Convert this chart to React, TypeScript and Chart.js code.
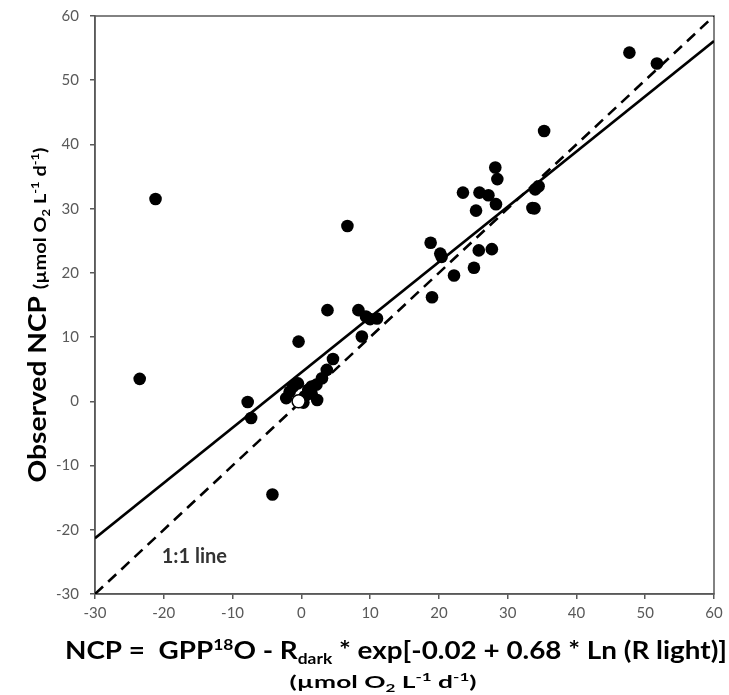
import React, { useEffect, useRef } from "react";
import { Chart, registerables } from "chart.js";

Chart.register(...registerables);

// Observed data (x = modelled NCP, y = observed NCP)
const xObs = [
  -21.2, -23.5, 6.7, 3.8, 8.3, 9.4, 10.0, 11.0, 8.8, -0.4,
  -7.8, -7.3, -4.2, 4.6, 3.7, 3.0, 2.2, 1.5, 1.0, -0.5,
  -1.2, -1.7, -2.2, 0.5, 2.3, 1.5, 0.3, 18.8, 20.2, 20.4,
  22.2, 25.1, 25.8, 27.7, 19.0, 23.5, 25.9, 27.2, 28.3, 25.4,
  28.2, 28.5, 35.3, 34.0, 34.5, 33.9, 33.6, 47.7, 51.7,
];
const yObs = [
  31.5, 3.5, 27.3, 14.2, 14.2, 13.2, 12.8, 12.9, 10.1, 9.3,
  -0.1, -2.6, -14.5, 6.6, 4.9, 3.6, 2.6, 2.3, 1.8, 2.8,
  2.3, 1.5, 0.5, 0.8, 0.2, 1.2, -0.2, 24.7, 23.0, 22.5,
  19.6, 20.8, 23.5, 23.7, 16.2, 32.5, 32.5, 32.1, 30.7, 29.7,
  36.4, 34.6, 42.1, 33.0, 33.5, 30.05, 30.1, 54.3, 52.6,
];
const openX = [-0.4];
const openY = [0.0];

const fitSlope = 0.86;
const fitIntercept = 4.5;
const lineX = [-30, 60];

const axisMin = -30;
const axisMax = 60;
const tickStep = 10;

const oneToOneLabel = "1:1 line";
const oneToOneLabelPos = [-20.3, -24.2];

type Seg = { t: string; s: number; dy: number };

const xTitle1: Seg[] = [
  { t: "NCP =  GPP", s: 24, dy: 0 },
  { t: "18", s: 15, dy: -9 },
  { t: "O - R", s: 24, dy: 0 },
  { t: "dark", s: 15, dy: 5 },
  { t: " * exp[-0.02 + 0.68 * Ln (R light)]", s: 24, dy: 0 },
];
const unitSegs: Seg[] = [
  { t: "(\u00b5mol O", s: 17, dy: 0 },
  { t: "2", s: 11, dy: 4 },
  { t: " L", s: 17, dy: 0 },
  { t: "-1", s: 11, dy: -7 },
  { t: " d", s: 17, dy: 0 },
  { t: "-1", s: 11, dy: -7 },
  { t: ")", s: 17, dy: 0 },
];
const yTitle: Seg[] = [{ t: "Observed NCP ", s: 24, dy: 0 }, ...unitSegs];

const FONT = "Lato, 'Open Sans', sans-serif";

function drawRich(
  ctx: CanvasRenderingContext2D,
  segs: Seg[],
  cx: number,
  cy: number,
  width: number,
  rot: number,
  color: string
) {
  ctx.save();
  ctx.translate(cx, cy);
  ctx.rotate(rot);
  let total = 0;
  const ws = segs.map((sg) => {
    ctx.font = `bold ${sg.s}px ${FONT}`;
    const w = ctx.measureText(sg.t).width;
    total += w;
    return w;
  });
  ctx.scale(width / total, 1);
  let x = -total / 2;
  ctx.fillStyle = color;
  ctx.textBaseline = "alphabetic";
  ctx.textAlign = "left";
  segs.forEach((sg, i) => {
    ctx.font = `bold ${sg.s}px ${FONT}`;
    ctx.fillText(sg.t, x, sg.dy);
    x += ws[i];
  });
  ctx.restore();
}

const decorPlugin = {
  id: "decor",
  beforeDatasetsDraw(chart: any) {
    const { ctx, chartArea } = chart;
    ctx.save();
    ctx.strokeStyle = "#595959";
    ctx.lineWidth = 1.5;
    ctx.strokeRect(chartArea.left, chartArea.top, chartArea.right - chartArea.left, chartArea.bottom - chartArea.top);
    ctx.restore();
  },
  afterDraw(chart: any) {
    const { ctx } = chart;
    const xs = chart.scales.x;
    const ys = chart.scales.y;
    ctx.save();
    ctx.font = `bold 20px ${FONT}`;
    ctx.fillStyle = "#333333";
    ctx.textAlign = "left";
    ctx.textBaseline = "middle";
    ctx.fillText(
      oneToOneLabel,
      xs.getPixelForValue(oneToOneLabelPos[0]),
      ys.getPixelForValue(oneToOneLabelPos[1])
    );
    ctx.restore();
    drawRich(ctx, xTitle1, 396, 659, 662, 0, "#000");
    drawRich(ctx, unitSegs, 383, 688, 187, 0, "#000");
    drawRich(ctx, yTitle, 46, 315, 335, -Math.PI / 2, "#000");
  },
};

export default function App() {
  const ref = useRef<HTMLCanvasElement | null>(null);
  useEffect(() => {
    if (!ref.current) return;
    const pts = xObs.map((x, i) => ({ x, y: yObs[i] }));
    const open = openX.map((x, i) => ({ x, y: openY[i] }));
    const fit = lineX.map((x) => ({ x, y: fitSlope * x + fitIntercept }));
    const one = lineX.map((x) => ({ x, y: x }));
    const tickFont = { family: FONT, size: 15 };
    const chart = new Chart(ref.current, {
      type: "scatter",
      data: {
        datasets: [
          {
            type: "scatter",
            data: open,
            pointRadius: 6.5,
            pointBackgroundColor: "#fff",
            pointBorderColor: "#000",
            pointBorderWidth: 1.5,
          },
          {
            type: "scatter",
            data: pts,
            pointRadius: 6.3,
            pointBackgroundColor: "#000",
            pointBorderColor: "#000",
            pointBorderWidth: 0,
          },
          {
            type: "line",
            data: fit,
            borderColor: "#000",
            borderWidth: 2.6,
            pointRadius: 0,
            fill: false,
          },
          {
            type: "line",
            data: one,
            borderColor: "#000",
            borderWidth: 2.6,
            borderDash: [11, 7],
            pointRadius: 0,
            fill: false,
          },
        ],
      } as any,
      options: {
        animation: false,
        responsive: false,
        maintainAspectRatio: false,
        layout: { padding: { top: 16, right: 15, left: 0, bottom: 0 } },
        plugins: { legend: { display: false }, tooltip: { enabled: false } },
        scales: {
          x: {
            type: "linear",
            min: axisMin,
            max: axisMax,
            ticks: { stepSize: tickStep, color: "#595959", font: tickFont, padding: 5 },
            grid: { display: true, drawOnChartArea: false, drawTicks: true, tickLength: 5, color: "#595959", lineWidth: 1.5 },
            border: { display: true, color: "#595959", width: 1.5 },
            afterFit: (s: any) => {
              s.height = 101;
              s.paddingLeft = 0;
              s.paddingRight = 0;
            },
          },
          y: {
            type: "linear",
            min: axisMin,
            max: axisMax,
            ticks: { stepSize: tickStep, color: "#595959", font: tickFont, padding: 11 },
            grid: { display: true, drawOnChartArea: false, drawTicks: true, tickLength: 5, color: "#595959", lineWidth: 1.5 },
            border: { display: true, color: "#595959", width: 1.5 },
            afterFit: (s: any) => {
              s.width = 95;
              s.paddingTop = 0;
              s.paddingBottom = 0;
            },
          },
        },
      } as any,
      plugins: [decorPlugin],
    });
    return () => chart.destroy();
  }, []);
  return (
    <div style={{ position: "fixed", left: 0, top: 0, width: 729, height: 695, background: "#fff", overflow: "hidden" }}>
      <canvas ref={ref} width={729} height={695} style={{ display: "block", width: 729, height: 695 }} />
    </div>
  );
}
